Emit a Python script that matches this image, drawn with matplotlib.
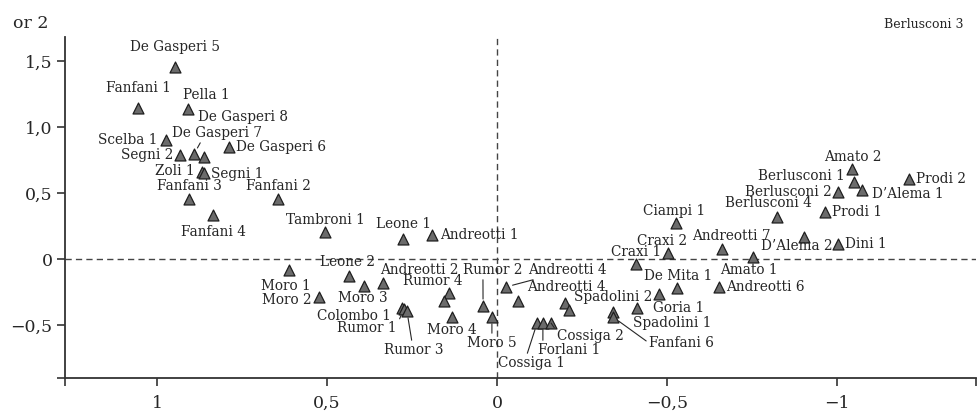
import matplotlib.pyplot as plt

# governi italiani: punteggi sui due fattori
governi = ['De Gasperi 5', 'Fanfani 1', 'Pella 1', 'De Gasperi 8', 'Scelba 1', 'Segni 2',
           'De Gasperi 7', 'Zoli 1', 'Segni 1', 'De Gasperi 6', 'Fanfani 3', 'Fanfani 2',
           'Fanfani 4', 'Tambroni 1', 'Leone 1', 'Andreotti 1', 'Moro 1', 'Moro 2',
           'Leone 2', 'Moro 3', 'Andreotti 2', 'Rumor 4', '', 'Moro 4',
           'Colombo 1', 'Rumor 1', 'Rumor 3', 'Rumor 2', 'Moro 5', 'Andreotti 4',
           'Andreotti 4', 'Cossiga 1', 'Forlani 1', 'Cossiga 2', '', '',
           'Spadolini 2', 'Fanfani 6', 'Spadolini 1', 'Goria 1', 'De Mita 1', 'Andreotti 6',
           'Craxi 1', 'Craxi 2', 'Ciampi 1', 'Andreotti 7', 'Amato 1', 'D\u2019Alema 2',
           'Dini 1', 'Berlusconi 4', 'Prodi 1', 'Berlusconi 2', 'Berlusconi 1', 'D\u2019Alema 1',
           'Amato 2', 'Prodi 2']
fattore1 = [0.947, 1.056, 0.909, 0.862, 0.974, 0.932,
            0.891, 0.868, 0.862, 0.788, 0.906, 0.644,
            0.835, 0.506, 0.276, 0.191, 0.612, 0.524,
            0.435, 0.391, 0.335, 0.141, 0.156, 0.132,
            0.279, 0.274, 0.265, 0.041, 0.015, -0.026,
            -0.062, -0.118, -0.135, -0.159, -0.200, -0.212,
            -0.341, -0.341, -0.412, -0.476, -0.529, -0.653,
            -0.409, -0.503, -0.526, -0.662, -0.753, -0.903,
            -1.003, -0.824, -0.965, -1.003, -1.050, -1.074,
            -1.044, -1.212]
fattore2 = [1.455, 1.144, 1.136, 0.773, 0.902, 0.788,
            0.795, 0.659, 0.652, 0.848, 0.455, 0.455,
            0.333, 0.205, 0.152, 0.182, -0.083, -0.288,
            -0.129, -0.205, -0.182, -0.258, -0.318, -0.439,
            -0.371, -0.379, -0.394, -0.356, -0.439, -0.212,
            -0.318, -0.485, -0.485, -0.485, -0.333, -0.386,
            -0.402, -0.439, -0.371, -0.265, -0.220, -0.212,
            -0.038, 0.045, 0.273, 0.076, 0.015, 0.167,
            0.114, 0.318, 0.356, 0.508, 0.583, 0.523,
            0.682, 0.606]

xticks = [1, 0.5, 0, -0.5, -1]
xtick_labels = ['1', '0,5', '0', '\u22120,5', '\u22121']
yticks = [1.5, 1.0, 0.5, 0, -0.5]
ytick_labels = ['1,5', '1,0', '0,5', '0', '\u22120,5']

# posizione delle etichette (offset in pixel, allineamento, eventuale linea guida)
placement = [(0, 20, 'center', None), (0, 20, 'center', None), (-5, 14, 'left', None),
             (-6, 40, 'left', None), (-8, 0, 'right', None), (-7, 0, 'right', None),
             (-22, 21, 'left', (0.33, 0)), (-7, 1, 'right', None), (7, -1, 'left', None),
             (7, 0, 'left', None), (0, 13, 'center', None), (0, 13, 'center', None),
             (0, -17, 'center', None), (0, 12, 'center', None), (0, 15, 'center', None),
             (8, 0, 'left', None), (-3, -16, 'center', None), (-7, -3, 'right', None),
             (-2, 14, 'center', None), (-1, -12, 'center', None), (-3, 13, 'left', None),
             (-16, 12, 'center', None), None, (0, -13, 'center', None),
             (-11, -8, 'right', None), (-7, -19, 'right', (1, 0.7)), (7, -39, 'center', (0.47, 1)),
             (10, 36, 'center', (0.33, 0)), (0, -26, 'center', (0.5, 1)), (22, 17, 'left', (0.2, 0)),
             (9, 14, 'left', None), (-6, -40, 'center', (0.43, 1)), (-5, -27, 'left', (0.08, 1)),
             (6, -13, 'left', (0, 0.8)), None, None,
             (0, 15, 'center', None), (36, -26, 'left', (0, 0.5)), (-4, -15, 'left', None),
             (-6, -14, 'left', None), (1, 12, 'center', None), (7, 0, 'left', None),
             (0, 12, 'center', None), (-6, 12, 'center', None), (-2, 12, 'center', None),
             (9, 13, 'center', None), (-4, -13, 'center', None), (29, -9, 'right', None),
             (7, 0, 'left', None), (-9, 14, 'center', None), (7, 0, 'left', None),
             (-6, 0, 'right', None), (-9, 6, 'right', None), (10, -4, 'left', None),
             (1, 12, 'center', None), (7, 0, 'left', None)]

plt.rcParams['font.family'] = ['DejaVu Serif']
ink = '#262626'

fig = plt.figure(figsize=(9.77, 4.15), dpi=100)
ax = fig.add_axes([65 / 977, 1 - 378 / 415, 911 / 977, 341 / 415])

ax.axhline(0, color='#444444', lw=1.0, ls=(0, (4.5, 3)), zorder=1)
ax.axvline(0, color='#444444', lw=1.0, ls=(0, (4.5, 3)), zorder=1)

ax.scatter(fattore1, fattore2, marker='^', s=62, c='#6b6b6b', edgecolors='#1e1e1e',
           linewidths=0.9, zorder=3)

for nome, x, y, pos in zip(governi, fattore1, fattore2, placement):
    if not nome:
        continue
    dx, dy, ha, rel = pos
    arrow = None
    if rel is not None:
        arrow = dict(arrowstyle='-', color=ink, lw=0.8, shrinkA=0, shrinkB=5, relpos=rel)
    ax.annotate(nome, (x, y), xytext=(dx, dy), textcoords='offset pixels',
                ha=ha, va='center', fontsize=9.8, color=ink, arrowprops=arrow, zorder=4)

ax.set_xlim(1.2706, -1.4088)
ax.set_ylim(-0.9015, 1.6818)

ax.set_xticks(xticks)
ax.set_xticklabels(xtick_labels)
ax.set_yticks(yticks)
ax.set_yticklabels(ytick_labels)
# piccoli segni agli estremi degli assi
ax.set_xticks([1.2706, -1.4088], minor=True)
ax.set_yticks([-0.9015], minor=True)

for side in ['top', 'right']:
    ax.spines[side].set_visible(False)
for side in ['left', 'bottom']:
    ax.spines[side].set_color('#333333')
    ax.spines[side].set_linewidth(1.3)

ax.tick_params(axis='both', which='both', direction='out', length=6, width=1.2,
               color='#333333', labelsize=12.5, labelcolor=ink)
ax.tick_params(axis='x', pad=6)
ax.tick_params(axis='y', pad=3)

fig.text(13 / 977, 1 - 23 / 415, 'or 2', ha='left', va='center', fontsize=12.5, color=ink)
fig.text(963 / 977, 1 - 25 / 415, 'Berlusconi 3', ha='right', va='center', fontsize=9,
         color=ink)

fig.savefig('out.png', dpi=100)
